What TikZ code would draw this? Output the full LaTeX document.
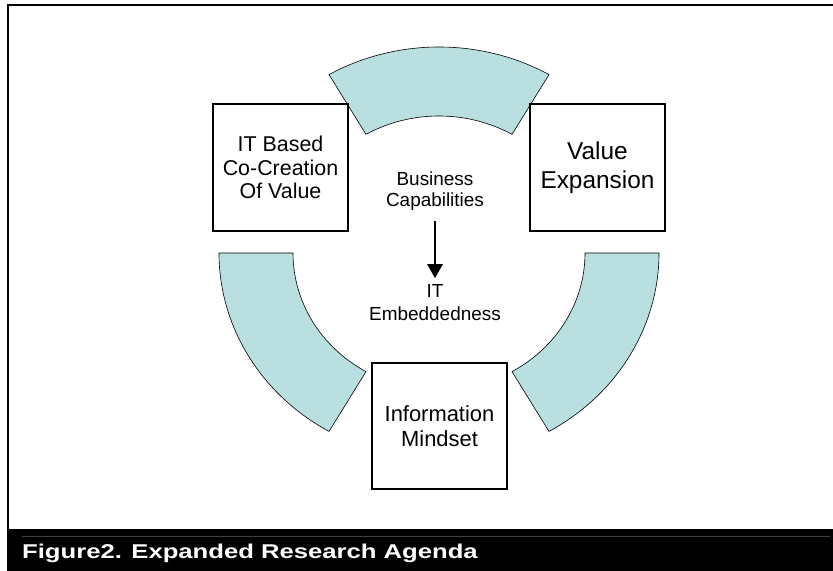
\documentclass[tikz,border=0pt]{standalone}
\usepackage{fontspec}
\setmainfont{Liberation Sans}
\usepackage{graphicx}
\usepackage{tikz}
\usetikzlibrary{arrows.meta,positioning,calc}
\definecolor{ringteal}{RGB}{185,223,225}
\definecolor{rulegray}{RGB}{64,64,64}

\begin{document}
\begin{tikzpicture}[
  x=1bp, y=1bp,
  >=latex,
  box/.style={draw, line width=1.5bp, fill=white, align=center, inner sep=0pt,
              minimum width=135bp, minimum height=127bp},
  seg/.style={draw, line width=0.6bp, fill=ringteal},
  lbl/.style={align=center, inner sep=0pt},
  arr/.style={-{Triangle[width=15bp,length=14bp]}, line width=2.6bp,
              shorten <=11bp, shorten >=6bp}
]
\useasboundingbox (0,0) rectangle (833,571);

% frame and caption bar
\fill (7,0) rectangle (833,42);
\draw[rulegray, line width=1bp] (22,34) -- (830,34);
\draw[line width=2bp] (7.5,42) -- (7.5,566) -- (833,566);

% ring segments round the centre
\coordinate (ctr) at (439,318);
\foreach \a/\b in {60/120, 180/240, 300/360}
  \draw[seg] ($(ctr)+(\a:220bp and 206bp)$)
      arc[start angle=\a, end angle=\b, x radius=220bp, y radius=206bp]
      -- ($(ctr)+(\b:146bp and 137bp)$)
      arc[start angle=\b, end angle=\a, x radius=146bp, y radius=137bp] -- cycle;

% boxes
\node[box, font=\fontsize{21.5}{23.5}\selectfont] (cocreate) at (280.5,403.5)
  {IT Based\\Co-Creation\\Of Value};
\node[box, font=\fontsize{24.5}{29}\selectfont] (expand) at (597.5,403.5)
  {Value\\Expansion};
\node[box, font=\fontsize{22}{25}\selectfont, minimum height=126bp] (mindset) at (439.5,145)
  {Information\\Mindset};

% centre labels
\node[lbl, font=\fontsize{19}{21}\selectfont] (bizcap) at (435,380) {Business\\Capabilities};
\node[lbl, font=\fontsize{19}{23}\selectfont] (itembed) at (435,268.5) {IT\\Embeddedness};
\draw[arr] (bizcap) -- (itembed);

% caption
\node[anchor=base west, text=white, inner sep=0pt,
      font=\fontsize{20}{22}\selectfont\bfseries] (caption) at (22,12)
  {\scalebox{1.287}[1]{Figure2. Expanded Research Agenda}};
\end{tikzpicture}
\end{document}
